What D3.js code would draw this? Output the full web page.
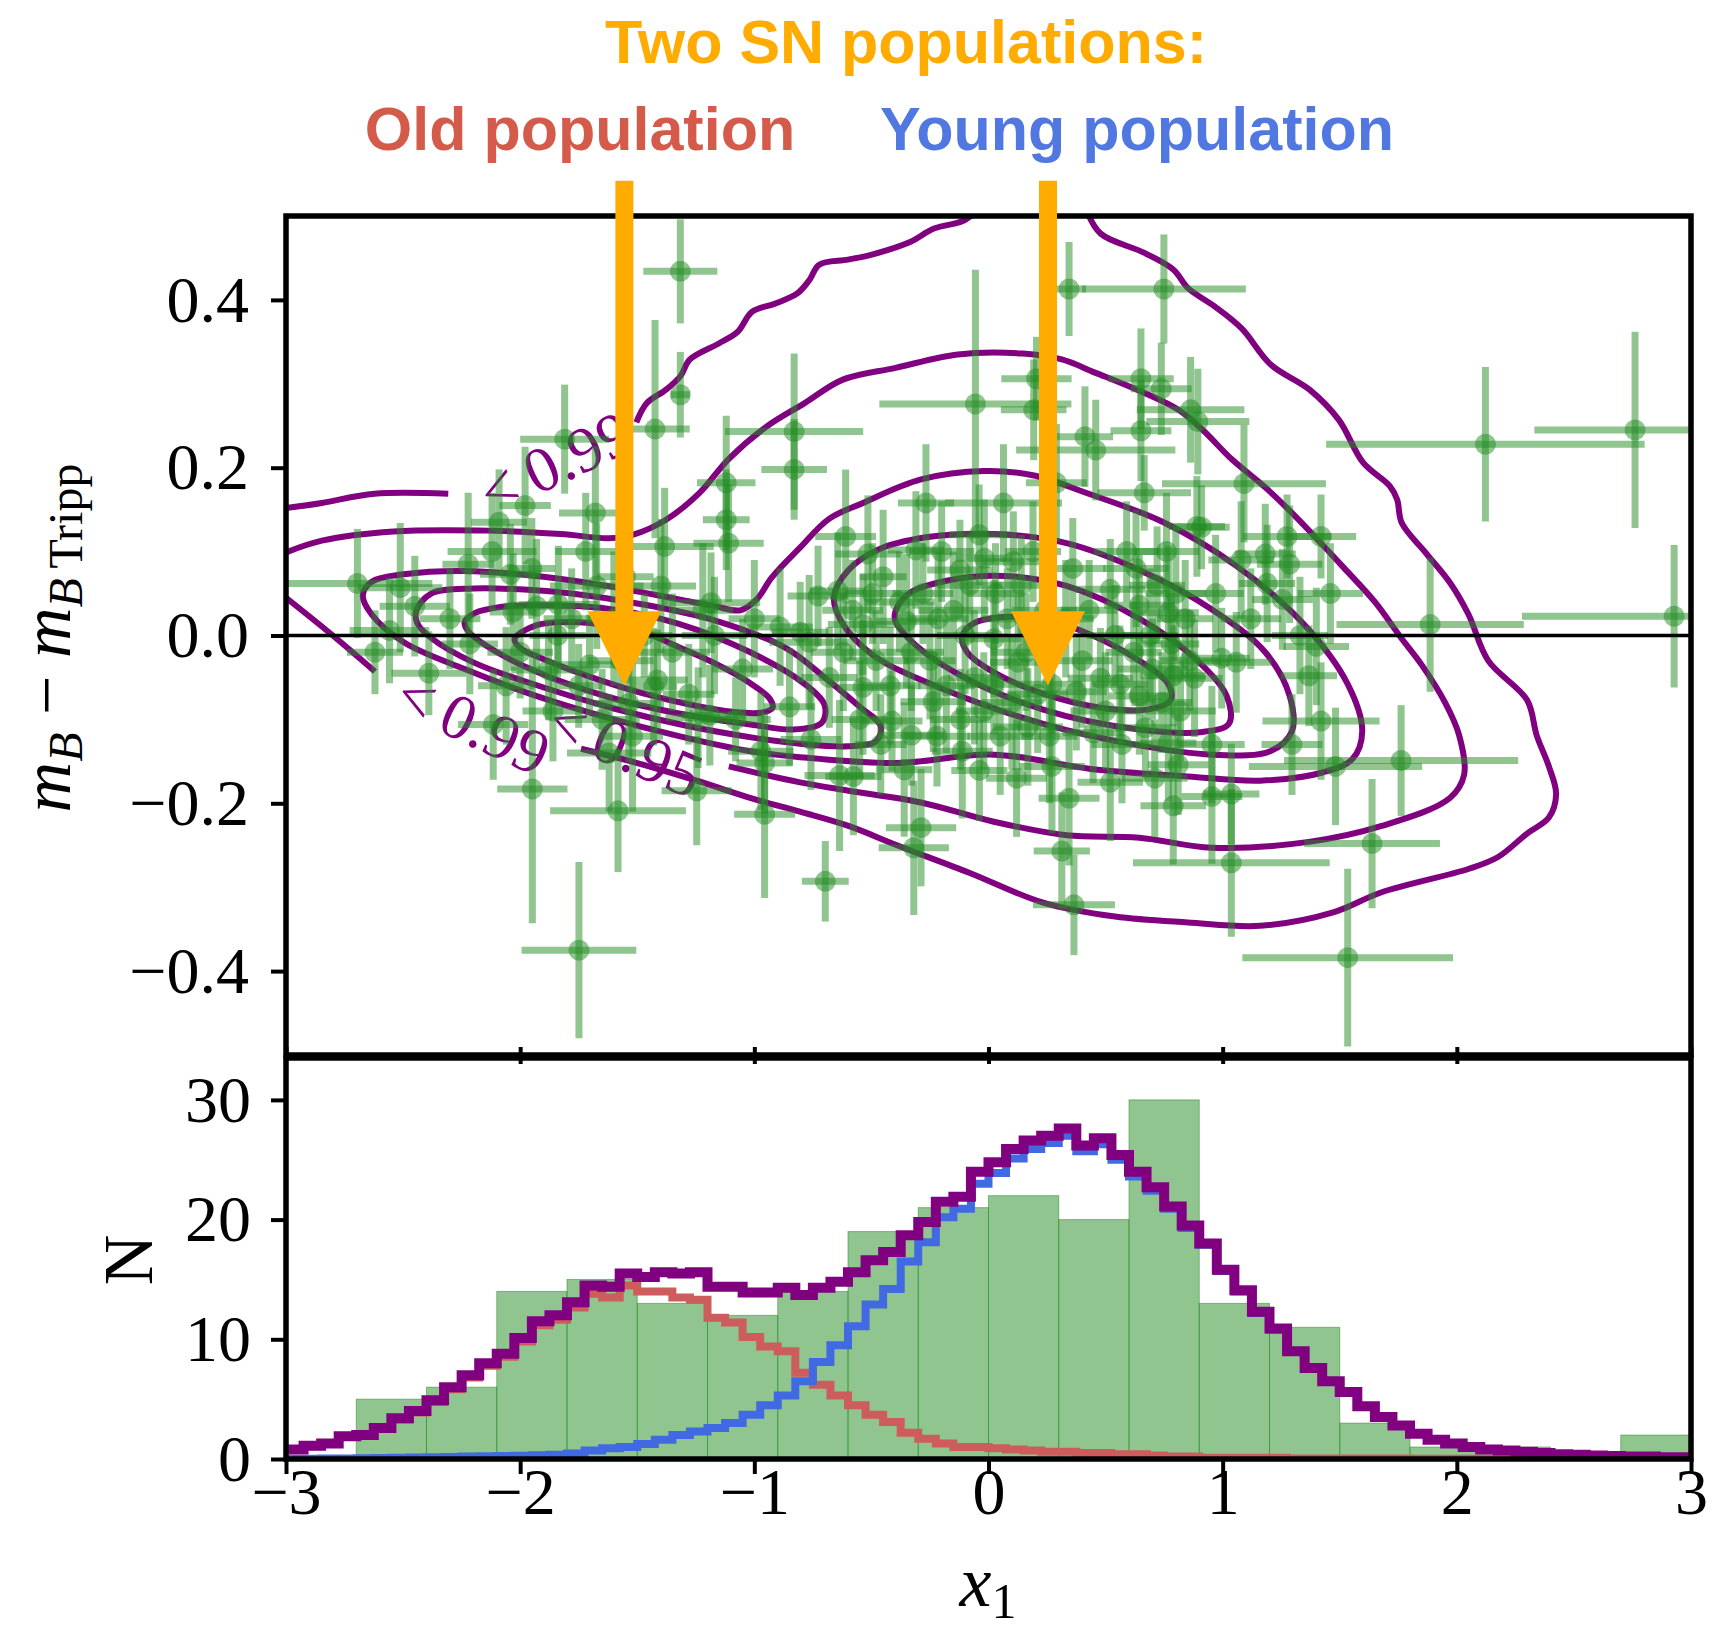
<!DOCTYPE html>
<html>
<head>
<meta charset="utf-8">
<script src="https://cdn.jsdelivr.net/npm/d3@7"></script>
<style>
body { margin: 0; background: #fff; }
</style>
</head>
<body>
<div id="chart-area"></div>
<script>
// ---- supernova sample (x1, Hubble residual) with errors, grouped by 0.3-wide x1 bins ----
var snX = [
  -2.695, -2.512, -2.558, -2.62, -2.45,
  -2.39, -2.222, -2.215, -2.115, -2.12, -2.3,
  -2.09, -2.042, -2.03, -1.93, -1.84, -1.879, -1.979, -1.948, -1.81, -1.837, -2.0, -1.95, -2.06, -1.86,
  -1.704, -1.673, -1.679, -1.582, -1.536, -1.749, -1.78, -1.75, -1.72, -1.65, -1.6, -1.57, -1.55, -1.62, -1.52,
  -1.316, -1.316, -1.424, -1.383, -1.399, -1.414, -1.43, -1.246, -1.24, -1.47, -1.35, -1.28, -1.22,
  -1.185, -1.17, -1.19, -1.12, -1.12, -1.11, -0.972, -0.956, -0.956, -1.05, -1.0, -1.08,
  -0.89, -0.804, -0.766, -0.728, -0.85, -0.758, -0.636, -0.644, -0.697, -0.83, -0.83, -0.61, -0.68, -0.62,
  -0.515, -0.495, -0.35, -0.536, -0.577, -0.329, -0.536, -0.412, -0.319, -0.31,
  -0.58, -0.55, -0.48, -0.45, -0.42, -0.38, -0.36, -0.46, -0.33,
  -0.267, -0.122, -0.215, -0.288, -0.039, -0.112, -0.236, -0.018, -0.056,
  -0.28, -0.25, -0.2, -0.18, -0.15, -0.12, -0.1, -0.08, -0.06, -0.04, -0.02, -0.22,
  0.064, 0.106, 0.023, 0.127, 0.271, 0.168, 0.023, 0.271, 0.205, 0.193, 0.29,
  0.03, 0.05, 0.08, 0.1, 0.14, 0.16, 0.19, 0.21, 0.24, 0.26, 0.12,
  0.375, 0.478, 0.561, 0.52, 0.344, 0.313, 0.365, 0.52, 0.447, 0.344, 0.412, 0.458,
  0.33, 0.36, 0.4, 0.43, 0.5, 0.54, 0.57, 0.59,
  0.644, 0.789, 0.88, 0.644, 0.768, 0.89, 0.665, 0.789, 0.81, 0.768, 0.749, 0.651, 0.738, 0.651, 0.863, 0.894,
  0.62, 0.63, 0.67, 0.69, 0.7, 0.72, 0.74, 0.76, 0.78, 0.8, 0.82, 0.84, 0.86, 0.71,
  1.079, 1.182, 1.19, 1.058, 0.954, 1.037, 0.954, 0.996, 1.037, 0.91, 1.091, 1.12, 0.97,
  1.286, 1.275, 1.42, 1.255, 1.40, 1.368, 1.42, 1.482, 1.296, 1.33, 1.46,
  1.762, 1.638, 1.534,
  1.886,
  2.122,
  2.761, 2.928
];
var snY = [
  0.062, 0.057, 0.006, -0.02, 0.035,
  -0.045, 0.085, -0.01, -0.106, 0.10, 0.02,
  0.135, 0.073, 0.028, 0.035, 0.0, -0.041, 0.155, -0.183, 0.234, 0.037, -0.02, 0.08, -0.06, -0.09,
  -0.035, 0.059, 0.146, -0.209, -0.081, -0.375, 0.02, -0.06, 0.1, -0.1, 0.02, -0.03, 0.07, -0.14, -0.12,
  0.434, 0.287, 0.246, 0.106, 0.059, -0.053, -0.061, -0.185, -0.098, 0.0, -0.02, -0.07, 0.03,
  0.039, 0.0, -0.095, 0.182, 0.138, 0.11, -0.138, -0.152, -0.213, -0.04, 0.02, -0.1,
  0.01, 0.004, -0.008, 0.047, -0.085, -0.124, -0.167, 0.053, -0.293, 0.243, 0.198, 0.118, -0.05, -0.02,
  0.097, 0.05, 0.017, 0.013, -0.168, -0.119, -0.062, -0.102, -0.253, 0.102,
  0.03, -0.1, -0.03, 0.07, -0.06, 0.04, -0.16, -0.13, -0.02,
  0.158, 0.078, 0.02, -0.229, -0.161, -0.138, -0.079, 0.092, 0.276,
  0.05, -0.03, 0.1, -0.06, 0.03, -0.1, 0.0, 0.06, -0.05, 0.12, -0.09, -0.12,
  0.158, 0.088, -0.004, -0.032, -0.058, -0.109, -0.058, -0.156, 0.306, 0.269, 0.182,
  0.05, -0.12, 0.02, -0.08, 0.06, -0.02, 0.1, -0.07, 0.03, -0.12, -0.17,
  -0.067, -0.051, -0.058, 0.055, -0.194, -0.257, -0.321, -0.175, -0.116, 0.413, 0.237, 0.221,
  0.02, 0.08, -0.03, 0.03, -0.09, 0.0, -0.13, 0.1,
  -0.072, -0.048, -0.051, 0.036, 0.027, 0.13, 0.17, -0.203, -0.154, -0.128, 0.413, 0.306, 0.294, 0.244, 0.269, 0.255,
  -0.02, 0.08, -0.11, 0.0, -0.04, 0.06, -0.08, 0.1, -0.01, 0.05, -0.09, 0.02, -0.03, -0.17,
  0.09, 0.097, 0.062, -0.032, -0.192, -0.189, -0.13, -0.027, -0.271, 0.129, 0.181, 0.02, 0.05,
  0.085, 0.118, 0.118, 0.043, -0.013, -0.048, -0.102, -0.156, -0.13, 0.0, 0.05,
  -0.149, -0.248, -0.384,
  0.013,
  0.228,
  0.245, 0.023
];
var snXErr = [
  0.32, 0.18, 0.17, 0.12, 0.15,
  0.16, 0.11, 0.12, 0.15, 0.19, 0.13,
  0.12, 0.13, 0.1, 0.14, 0.12, 0.16, 0.11, 0.15, 0.19, 0.17, 0.14, 0.1, 0.12, 0.13,
  0.14, 0.2, 0.155, 0.29, 0.15, 0.245, 0.12, 0.1, 0.13, 0.16, 0.11, 0.14, 0.12, 0.18, 0.13,
  0.158, 0.04, 0.148, 0.21, 0.15, 0.13, 0.1, 0.15, 0.14, 0.12, 0.16, 0.11, 0.13,
  0.21, 0.14, 0.12, 0.125, 0.1, 0.15, 0.14, 0.12, 0.13, 0.13, 0.11, 0.15,
  0.14, 0.12, 0.17, 0.13, 0.11, 0.13, 0.15, 0.12, 0.1, 0.295, 0.14, 0.13, 0.12, 0.14,
  0.14, 0.12, 0.13, 0.15, 0.12, 0.14, 0.11, 0.13, 0.15, 0.12,
  0.13, 0.12, 0.14, 0.1, 0.13, 0.15, 0.12, 0.11, 0.14,
  0.12, 0.14, 0.13, 0.15, 0.12, 0.13, 0.14, 0.12, 0.41,
  0.13, 0.11, 0.14, 0.12, 0.15, 0.13, 0.12, 0.14, 0.11, 0.13, 0.12, 0.14,
  0.25, 0.13, 0.14, 0.12, 0.13, 0.15, 0.12, 0.14, 0.15, 0.14, 0.13,
  0.12, 0.14, 0.11, 0.13, 0.12, 0.15, 0.12, 0.13, 0.14, 0.12, 0.13,
  0.13, 0.14, 0.12, 0.15, 0.13, 0.12, 0.175, 0.14, 0.13, 0.073, 0.12, 0.34,
  0.12, 0.14, 0.13, 0.12, 0.15, 0.12, 0.13, 0.14,
  0.13, 0.14, 0.12, 0.15, 0.13, 0.12, 0.2, 0.14, 0.13, 0.12, 0.35, 0.14, 0.13, 0.13, 0.23, 0.22,
  0.12, 0.14, 0.13, 0.12, 0.15, 0.12, 0.13, 0.14, 0.12, 0.13, 0.15, 0.12, 0.13, 0.14,
  0.14, 0.13, 0.12, 0.15, 0.13, 0.12, 0.14, 0.12, 0.42, 0.12, 0.35, 0.13, 0.12,
  0.14, 0.19, 0.15, 0.13, 0.14, 0.12, 0.25, 0.37, 0.13, 0.12, 0.14,
  0.5, 0.29, 0.45,
  0.4,
  0.68,
  0.43, 0.65
];
var snYErr = [
  0.065, 0.077, 0.063, 0.05, 0.06,
  0.05, 0.085, 0.06, 0.066, 0.07, 0.06,
  0.063, 0.06, 0.07, 0.08, 0.05, 0.06, 0.07, 0.16, 0.065, 0.07, 0.055, 0.06, 0.07, 0.06,
  0.06, 0.075, 0.08, 0.073, 0.07, 0.105, 0.06, 0.05, 0.07, 0.06, 0.08, 0.05, 0.06, 0.07, 0.09,
  0.062, 0.051, 0.13, 0.07, 0.08, 0.06, 0.07, 0.065, 0.06, 0.05, 0.07, 0.06, 0.08,
  0.06, 0.07, 0.06, 0.08, 0.06, 0.07, 0.07, 0.06, 0.1, 0.06, 0.07, 0.05,
  0.07, 0.06, 0.08, 0.06, 0.07, 0.06, 0.09, 0.07, 0.048, 0.093, 0.06, 0.08, 0.06, 0.07,
  0.07, 0.06, 0.08, 0.06, 0.07, 0.06, 0.08, 0.06, 0.08, 0.07,
  0.06, 0.07, 0.06, 0.08, 0.07, 0.06, 0.08, 0.06, 0.07,
  0.07, 0.06, 0.08, 0.07, 0.06, 0.08, 0.06, 0.07, 0.16,
  0.06, 0.07, 0.06, 0.08, 0.07, 0.06, 0.07, 0.06, 0.08, 0.06, 0.07, 0.06,
  0.07, 0.06, 0.07, 0.08, 0.06, 0.07, 0.06, 0.08, 0.05, 0.06, 0.07,
  0.06, 0.07, 0.06, 0.08, 0.06, 0.07, 0.06, 0.07, 0.06, 0.08, 0.07,
  0.07, 0.06, 0.07, 0.06, 0.08, 0.07, 0.06, 0.07, 0.06, 0.056, 0.06, 0.06,
  0.07, 0.06, 0.08, 0.06, 0.07, 0.06, 0.07, 0.06,
  0.07, 0.06, 0.07, 0.06, 0.08, 0.06, 0.045, 0.07, 0.06, 0.07, 0.065, 0.06, 0.055, 0.06, 0.063, 0.063,
  0.06, 0.07, 0.06, 0.08, 0.06, 0.07, 0.06, 0.07, 0.06, 0.08, 0.06, 0.07, 0.06, 0.07,
  0.07, 0.06, 0.07, 0.06, 0.08, 0.06, 0.07, 0.06, 0.088, 0.05, 0.07, 0.06, 0.07,
  0.07, 0.05, 0.05, 0.06, 0.07, 0.06, 0.07, 0.07, 0.06, 0.07, 0.06,
  0.066, 0.077, 0.106,
  0.08,
  0.092,
  0.117, 0.085
];

// ---- density contours (x1, residual) ----
var contourOld1 = [[-2.024,-0.004],[-1.932,0.012],[-1.78,0.016],[-1.627,0.012],[-1.475,0.004],[-1.322,-0.014],[-1.17,-0.033],
  [-1.017,-0.057],[-0.935,-0.075],[-0.922,-0.086],[-0.972,-0.092],[-1.094,-0.091],[-1.246,-0.084],[-1.475,-0.069],
  [-1.704,-0.049],[-1.902,-0.028],[-2.0,-0.015]];
var contourOld2 = [[-2.237,0.016],[-2.192,0.027],[-2.085,0.034],[-1.932,0.036],[-1.627,0.032],[-1.322,0.014],[-1.017,-0.02],
  [-0.789,-0.057],[-0.7,-0.083],[-0.712,-0.104],[-0.834,-0.112],[-1.017,-0.106],[-1.322,-0.093],[-1.627,-0.073],
  [-1.932,-0.043],[-2.146,-0.012],[-2.222,0.005]];
var contourOld3 = [[-2.443,0.03],[-2.38,0.05],[-2.2,0.056],[-2.0,0.055],[-1.78,0.05],[-1.475,0.037],[-1.17,0.018],[-0.865,-0.015],
  [-0.7,-0.05],[-0.55,-0.085],[-0.46,-0.108],[-0.48,-0.126],[-0.6,-0.132],[-0.805,-0.129],[-1.0,-0.122],[-1.3,-0.107],
  [-1.6,-0.087],[-1.9,-0.062],[-2.2,-0.032],[-2.38,-0.003],[-2.44,0.015]];
var contourYoung1 = [[-0.112,-0.001],[-0.06,0.015],[0.064,0.022],[0.23,0.020],[0.437,0.001],[0.644,-0.030],[0.768,-0.058],
  [0.778,-0.077],[0.685,-0.088],[0.478,-0.086],[0.23,-0.069],[0.023,-0.044],[-0.091,-0.020]];
var contourYoung2 = [[-0.401,0.022],[-0.35,0.048],[-0.184,0.065],[0.064,0.071],[0.333,0.059],[0.644,0.020],[0.892,-0.030],
  [1.017,-0.072],[1.027,-0.105],[0.913,-0.115],[0.644,-0.112],[0.23,-0.088],[-0.143,-0.044],[-0.35,-0.001]];
var contourYoung3 = [[-0.66,0.046],[-0.598,0.078],[-0.474,0.102],[-0.267,0.117],[0.023,0.121],[0.333,0.110],[0.644,0.078],
  [0.954,0.031],[1.182,-0.020],[1.286,-0.072],[1.296,-0.114],[1.203,-0.138],[0.954,-0.142],[0.644,-0.131],[0.23,-0.105],
  [-0.184,-0.065],[-0.495,-0.023],[-0.629,0.017]];
var contourBoth = [[-2.672,0.048],[-2.634,0.064],[-2.497,0.073],[-2.237,0.077],[-1.932,0.071],[-1.627,0.059],[-1.322,0.043],
  [-1.17,0.035],[-1.06,0.03],[-0.99,0.043],[-0.926,0.069],[-0.804,0.105],[-0.681,0.139],[-0.536,0.158],[-0.288,0.186],
  [-0.018,0.196],[0.189,0.191],[0.437,0.168],[0.747,0.135],[1.058,0.083],[1.348,0.013],[1.534,-0.058],[1.596,-0.114],
  [1.555,-0.147],[1.43,-0.163],[1.161,-0.173],[0.851,-0.168],[0.437,-0.159],[0.023,-0.142],[-0.391,-0.152],[-0.805,-0.145],
  [-1.017,-0.138],[-1.322,-0.12],[-1.627,-0.098],[-1.932,-0.072],[-2.237,-0.04],[-2.497,-0.008],[-2.634,0.025]];
var contour95 = [[-3.0,0.099],[-2.847,0.113],[-2.541,0.124],[-2.133,0.125],[-1.826,0.121],[-1.622,0.116],[-1.52,0.12],
  [-1.377,0.138],[-1.234,0.170],[-1.111,0.210],[-0.948,0.249],[-0.785,0.277],[-0.622,0.305],[-0.397,0.319],[-0.131,0.335],
  [0.147,0.336],[0.313,0.329],[0.458,0.313],[0.666,0.289],[0.811,0.269],[0.915,0.245],[1.039,0.210],[1.184,0.176],
  [1.3,0.145],[1.42,0.11],[1.52,0.08],[1.65,0.04],[1.76,-0.002],[1.85,-0.035],[1.95,-0.08],[2.01,-0.119],[2.031,-0.166],
  [1.969,-0.194],[1.679,-0.227],[1.368,-0.246],[0.954,-0.253],[0.644,-0.241],[0.333,-0.238],[0.023,-0.222],
  [-0.288,-0.199],[-0.598,-0.185],[-0.805,-0.175],[-1.109,-0.156]];
var contour99a = [[-3.0,0.152],[-2.847,0.158],[-2.623,0.169],[-2.307,0.169]];
var contour99b = [[-1.504,0.254],[-1.459,0.277],[-1.377,0.293],[-1.316,0.309],[-1.275,0.329],[-1.152,0.348],[-1.071,0.362],
  [-1.009,0.386],[-0.907,0.396],[-0.815,0.408],[-0.764,0.424],[-0.723,0.442],[-0.6,0.448],[-0.498,0.454],[-0.335,0.469],
  [-0.233,0.485],[-0.11,0.494],[-0.05,0.506]];
var contour99c = [[0.42,0.506],[0.479,0.479],[0.666,0.456],[0.79,0.436],[0.852,0.414],[0.967,0.392],[1.081,0.366],[1.205,0.323],
  [1.371,0.293],[1.496,0.257],[1.6,0.206],[1.714,0.178],[1.745,0.162],[1.765,0.134],[1.869,0.098],[1.973,0.062],[2.05,0.025],
  [2.134,-0.03],[2.3,-0.077],[2.341,-0.119],[2.393,-0.156],[2.424,-0.189],[2.393,-0.217],[2.3,-0.236],[2.176,-0.264],
  [2.052,-0.278],[1.679,-0.306],[1.472,-0.330],[1.161,-0.346],[0.851,-0.342],[0.540,-0.335],[0.23,-0.318],[-0.08,-0.283],
  [-0.391,-0.25],[-0.598,-0.227],[-0.805,-0.21],[-1.0,-0.195],[-1.246,-0.173],[-1.5,-0.152],[-1.74,-0.135]];
var contour99d = [[-3.0,0.045],[-2.8,0.0],[-2.62,-0.043]];
var contourLabels = [
  { text: '<\u20090.99', x: -1.85, y: 0.207, angle: -25 },
  { text: '<\u20090.99', x: -2.2, y: -0.104, angle: 25 },
  { text: '<\u20090.95', x: -1.55, y: -0.133, angle: 23 }
];
var arrowX = [-1.555, 0.254];

// ---- lower panel: observed histogram and model step curves ----
var histEdges = [-3, -2.7, -2.4, -2.1, -1.8, -1.5, -1.2, -0.9, -0.6, -0.3, 0, 0.3, 0.6, 0.9, 1.2, 1.5, 1.8, 2.1, 2.4, 2.7, 3];
var histCounts = [0, 5, 6, 14, 15, 13, 12, 14, 19, 21, 22, 20, 30, 13, 11, 3, 1, 1, 0, 2];

var modelTotal = [0.8, 1.1, 1.3, 1.9, 2.0, 2.6, 3.4, 4.0, 4.9, 6.0,
  7.0, 8.0, 8.8, 10.1, 11.5, 12.0, 13.1, 14.5, 14.4, 15.5,
  15.2, 15.6, 15.5, 15.6, 14.4, 14.4, 13.9, 13.9, 14.3, 13.7,
  14.3, 14.8, 15.6, 16.6, 17.3, 18.7, 19.8, 21.5, 21.9, 24.0,
  24.8, 25.9, 26.6, 27.0, 27.6, 26.2, 26.8, 25.4, 24.0, 22.7,
  21.1, 19.5, 18.0, 15.8, 14.1, 12.3, 10.9, 9.0, 7.6, 6.5,
  5.6, 4.4, 3.5, 2.8, 2.1, 1.6, 1.3, 1.0, 0.8, 0.7,
  0.6, 0.5, 0.4, 0.35, 0.3, 0.25, 0.2, 0.2, 0.15, 0.15];
var modelYoung = [0.02, 0.03, 0.04, 0.05, 0.06, 0.08, 0.1, 0.12, 0.14, 0.17,
  0.2, 0.22, 0.25, 0.28, 0.32, 0.36, 0.45, 0.7, 0.9, 1.0,
  1.25, 1.6, 2.0, 2.3, 2.6, 3.0, 3.7, 4.5, 5.3, 6.5,
  8.1, 9.5, 11.1, 12.9, 14.2, 16.5, 18.1, 20.2, 20.9, 23.0,
  23.9, 25.1, 25.9, 26.4, 27.0, 25.7, 26.3, 25.0, 23.6, 22.4,
  20.9, 19.3, 17.9, 15.7, 14.0, 12.2, 10.8, 8.95, 7.55, 6.45,
  5.55, 4.37, 3.47, 2.78, 2.08, 1.59, 1.29, 0.99, 0.79, 0.69,
  0.59, 0.49, 0.39, 0.34, 0.29, 0.24, 0.19, 0.19, 0.14, 0.14];
var modelOld = [0.78, 1.07, 1.26, 1.85, 1.94, 2.52, 3.3, 3.88, 4.76, 5.83,
  6.8, 7.78, 8.55, 9.82, 11.18, 11.64, 12.65, 13.8, 13.5, 14.5,
  14.0, 14.0, 13.5, 13.3, 11.8, 11.4, 10.2, 9.4, 9.0, 7.2,
  6.2, 5.3, 4.5, 3.7, 3.1, 2.2, 1.7, 1.3, 1.0, 1.0,
  0.9, 0.8, 0.7, 0.6, 0.6, 0.5, 0.5, 0.4, 0.4, 0.3,
  0.2, 0.2, 0.1, 0.1, 0.1, 0.1, 0.1, 0.05, 0.05, 0.05,
  0.05, 0.04, 0.04, 0.04, 0.03, 0.03, 0.03, 0.03, 0.02, 0.02,
  0.02, 0.02, 0.02, 0.01, 0.01, 0.01, 0.01, 0.01, 0.01, 0.01];
var modelBinWidth = 0.075;

var xTicks = [-3, -2, -1, 0, 1, 2, 3];
var yTopTicks = [-0.4, -0.2, 0, 0.2, 0.4];
var yBotTicks = [0, 10, 20, 30];

// ---- layout ----
var W = 1712, H = 1639;
var left = 286, right = 1691;
var topY0 = 216, topY1 = 1055;
var botY0 = 1058, botY1 = 1459;
var serif = '"Liberation Serif", "DejaVu Serif", serif';
var sans = '"Liberation Sans", Arial, sans-serif';

var svg = d3.select('#chart-area')
    .append('svg')
    .attr('width', W)
    .attr('height', H)
    .style('display', 'block');

var x = d3.scaleLinear().domain([-3, 3]).range([left, right]);
var yTop = d3.scaleLinear().domain([-0.5, 0.5]).range([topY1, topY0]);
var yBot = d3.scaleLinear().domain([0, 33.5]).range([botY1, botY0]);

var defs = svg.append('defs');
defs.append('clipPath').attr('id', 'clipTop').append('rect')
    .attr('x', left).attr('y', topY0).attr('width', right - left).attr('height', topY1 - topY0);
defs.append('clipPath').attr('id', 'clipBot').append('rect')
    .attr('x', left).attr('y', botY0).attr('width', right - left).attr('height', botY1 - botY0);

// ================= top panel =================
var gTop = svg.append('g').attr('clip-path', 'url(#clipTop)');

var openLine = d3.line()
    .x(function (d) { return x(d[0]); })
    .y(function (d) { return yTop(d[1]); })
    .curve(d3.curveCatmullRom.alpha(0.5));
var closedLine = d3.line()
    .x(function (d) { return x(d[0]); })
    .y(function (d) { return yTop(d[1]); })
    .curve(d3.curveCatmullRomClosed.alpha(0.5));

[contourOld1, contourOld2, contourOld3, contourYoung1, contourYoung2, contourYoung3, contourBoth].forEach(function (c) {
    gTop.append('path')
        .attr('d', closedLine(c))
        .attr('fill', 'none')
        .attr('stroke', 'purple')
        .attr('stroke-width', 6)
        .attr('stroke-linejoin', 'round');
});
[contour95, contour99a, contour99b, contour99c, contour99d].forEach(function (c) {
    gTop.append('path')
        .attr('d', openLine(c))
        .attr('fill', 'none')
        .attr('stroke', 'purple')
        .attr('stroke-width', 6)
        .attr('stroke-linejoin', 'round');
});

gTop.selectAll('text.clabel')
    .data(contourLabels)
    .enter()
    .append('text')
    .attr('class', 'clabel')
    .attr('transform', function (d) {
        return 'translate(' + x(d.x) + ',' + yTop(d.y) + ') rotate(' + d.angle + ')';
    })
    .attr('text-anchor', 'middle')
    .attr('dy', '0.35em')
    .attr('font-family', serif)
    .attr('font-size', 64)
    .attr('fill', 'purple')
    .text(function (d) { return d.text; });

// error bars
var idx = d3.range(snX.length);
var green = 'forestgreen';
gTop.selectAll('line.xerr')
    .data(idx)
    .enter()
    .append('line')
    .attr('x1', function (i) { return x(snX[i] - snXErr[i]); })
    .attr('x2', function (i) { return x(snX[i] + snXErr[i]); })
    .attr('y1', function (i) { return yTop(snY[i]); })
    .attr('y2', function (i) { return yTop(snY[i]); })
    .attr('stroke', green)
    .attr('stroke-opacity', 0.5)
    .attr('stroke-width', 7);
gTop.selectAll('line.yerr')
    .data(idx)
    .enter()
    .append('line')
    .attr('x1', function (i) { return x(snX[i]); })
    .attr('x2', function (i) { return x(snX[i]); })
    .attr('y1', function (i) { return yTop(snY[i] - snYErr[i]); })
    .attr('y2', function (i) { return yTop(snY[i] + snYErr[i]); })
    .attr('stroke', green)
    .attr('stroke-opacity', 0.5)
    .attr('stroke-width', 7);
gTop.selectAll('circle.sn')
    .data(idx)
    .enter()
    .append('circle')
    .attr('cx', function (i) { return x(snX[i]); })
    .attr('cy', function (i) { return yTop(snY[i]); })
    .attr('r', 10.5)
    .attr('fill', green)
    .attr('fill-opacity', 0.5);

// zero line
gTop.append('line')
    .attr('x1', x(-3)).attr('x2', x(3))
    .attr('y1', yTop(0)).attr('y2', yTop(0))
    .attr('stroke', '#000')
    .attr('stroke-width', 3.5);

// ================= bottom panel =================
var gBot = svg.append('g').attr('clip-path', 'url(#clipBot)');

gBot.selectAll('rect.bar')
    .data(histCounts)
    .enter()
    .append('rect')
    .attr('x', function (d, i) { return x(histEdges[i]); })
    .attr('width', function (d, i) { return x(histEdges[i + 1]) - x(histEdges[i]); })
    .attr('y', function (d) { return yBot(d); })
    .attr('height', function (d) { return yBot(0) - yBot(d); })
    .attr('fill', green)
    .attr('fill-opacity', 0.5)
    .attr('stroke', green)
    .attr('stroke-opacity', 0.5)
    .attr('stroke-width', 1);

function stepPoints(values) {
    var pts = [];
    values.forEach(function (v, i) {
        pts.push([-3 + i * modelBinWidth, v]);
        pts.push([-3 + (i + 1) * modelBinWidth, v]);
    });
    return pts;
}
var stepLine = d3.line()
    .x(function (d) { return x(d[0]); })
    .y(function (d) { return yBot(d[1]); });

[[modelOld, 'indianred', 8], [modelYoung, 'royalblue', 8], [modelTotal, 'purple', 10]].forEach(function (s) {
    gBot.append('path')
        .attr('d', stepLine(stepPoints(s[0])))
        .attr('fill', 'none')
        .attr('stroke', s[1])
        .attr('stroke-width', s[2])
        .attr('stroke-linejoin', 'miter');
});

// ================= axes =================
function styleAxis(g) {
    g.attr('font-family', serif).attr('font-size', 66);
    g.select('.domain').remove();
    g.selectAll('.tick line').attr('stroke', '#000').attr('stroke-width', 4);
    g.selectAll('.tick text').attr('fill', '#000');
}

var fmtTop = d3.format('.1f');
svg.append('g')
    .attr('transform', 'translate(' + left + ',0)')
    .call(d3.axisLeft(yTop).tickValues(yTopTicks).tickSize(15).tickFormat(fmtTop))
    .call(styleAxis)
    .selectAll('.tick text').attr('x', -37);

svg.append('g')
    .attr('transform', 'translate(' + left + ',0)')
    .call(d3.axisLeft(yBot).tickValues(yBotTicks).tickSize(15).tickFormat(d3.format('d')))
    .call(styleAxis)
    .selectAll('.tick text').attr('x', -35);

svg.append('g')
    .attr('transform', 'translate(0,' + topY1 + ')')
    .call(d3.axisBottom(x).tickValues([-2, -1, 0, 1, 2]).tickSize(9).tickFormat(''))
    .call(styleAxis);
svg.append('g')
    .attr('transform', 'translate(0,' + botY0 + ')')
    .call(d3.axisTop(x).tickValues(xTicks).tickSize(11).tickFormat(''))
    .call(styleAxis);

svg.append('g')
    .attr('transform', 'translate(0,' + botY1 + ')')
    .call(d3.axisBottom(x).tickValues(xTicks).tickSize(15).tickFormat(d3.format('d')))
    .call(styleAxis)
    .selectAll('.tick text').attr('y', 55).attr('dy', null);

// frames
[[topY0, topY1], [botY0, botY1]].forEach(function (p) {
    svg.append('rect')
        .attr('x', left).attr('y', p[0])
        .attr('width', right - left).attr('height', p[1] - p[0])
        .attr('fill', 'none')
        .attr('stroke', '#000')
        .attr('stroke-width', 5.5);
});

// ================= arrows =================
var orange = '#ffab00';
arrowX.forEach(function (ax) {
    var cx = x(ax);
    var headTop = yTop(0.029), tip = yTop(-0.06), tail = yTop(0.542);
    svg.append('rect')
        .attr('x', cx - 9).attr('y', tail)
        .attr('width', 18).attr('height', headTop - tail + 1)
        .attr('fill', orange);
    svg.append('path')
        .attr('d', 'M' + (cx - 37) + ',' + headTop + 'L' + (cx + 37) + ',' + headTop + 'L' + cx + ',' + tip + 'Z')
        .attr('fill', orange);
});

// ================= labels =================
svg.append('text')
    .attr('x', 906).attr('y', 63)
    .attr('text-anchor', 'middle')
    .attr('font-family', sans).attr('font-weight', 'bold').attr('font-size', 61)
    .attr('fill', orange)
    .text('Two SN populations:');
svg.append('text')
    .attr('x', 580).attr('y', 150)
    .attr('text-anchor', 'middle')
    .attr('font-family', sans).attr('font-weight', 'bold').attr('font-size', 61)
    .attr('fill', '#d45a4a')
    .text('Old population');
svg.append('text')
    .attr('x', 1137).attr('y', 150)
    .attr('text-anchor', 'middle')
    .attr('font-family', sans).attr('font-weight', 'bold').attr('font-size', 61)
    .attr('fill', '#5078e0')
    .text('Young population');

var yLab = svg.append('text')
    .attr('transform', 'translate(70,638) rotate(-90)')
    .attr('text-anchor', 'middle')
    .attr('font-family', serif)
    .attr('font-size', 70);
yLab.append('tspan').attr('font-style', 'italic').text('m');
yLab.append('tspan').attr('font-style', 'italic').attr('font-size', 48).attr('dy', 12).text('B');
yLab.append('tspan').attr('dy', -12).text(' \u2212 ');
yLab.append('tspan').attr('font-style', 'italic').text('m');
yLab.append('tspan').attr('font-style', 'italic').attr('font-size', 48).attr('dy', 12).text('B');
yLab.append('tspan').attr('font-size', 48).text('\u2009Tripp');

svg.append('text')
    .attr('transform', 'translate(152,1260) rotate(-90)')
    .attr('text-anchor', 'middle')
    .attr('font-family', serif)
    .attr('font-size', 70)
    .text('N');

var xLab = svg.append('text')
    .attr('x', 988).attr('y', 1606)
    .attr('text-anchor', 'middle')
    .attr('font-family', serif)
    .attr('font-size', 72);
xLab.append('tspan').attr('font-style', 'italic').text('x');
xLab.append('tspan').attr('font-size', 50).attr('dy', 12).text('1');
</script>
</body>
</html>
